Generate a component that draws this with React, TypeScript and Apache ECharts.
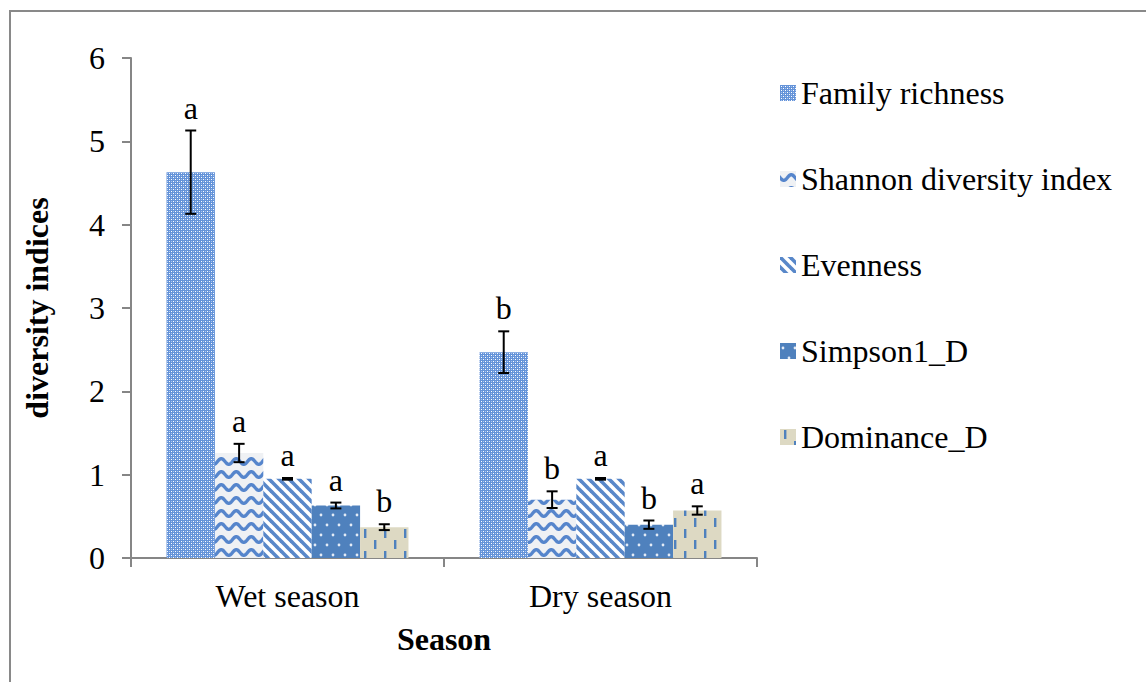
import React, { useEffect, useRef } from "react";
import * as echarts from "echarts";

const categories = ["Wet season", "Dry season"];
const seriesNames = [
  "Family richness",
  "Shannon diversity index",
  "Evenness",
  "Simpson1_D",
  "Dominance_D",
];
const familyRichness = [4.63, 2.47];
const shannonIndex = [1.26, 0.7];
const evenness = [0.95, 0.95];
const simpson = [0.63, 0.4];
const dominance = [0.37, 0.57];

const familyErr = [0.5, 0.25];
const shannonErr = [0.11, 0.1];
const evennessErr = [0.01, 0.01];
const simpsonErr = [0.035, 0.05];
const dominanceErr = [0.035, 0.05];

const familyLetters = ["a", "b"];
const shannonLetters = ["a", "b"];
const evennessLetters = ["a", "a"];
const simpsonLetters = ["a", "b"];
const dominanceLetters = ["b", "a"];

const yMin = 0;
const yMax = 6;
const yInterval = 1;

const FONT = "Liberation Serif";
const FS = 32;
const GAP = 0.227;

function tile(w: number, h: number, draw: (ctx: CanvasRenderingContext2D) => void) {
  const c = document.createElement("canvas");
  c.width = w;
  c.height = h;
  const ctx = c.getContext("2d") as CanvasRenderingContext2D;
  draw(ctx);
  return { image: c, repeat: "repeat", imageWidth: w, imageHeight: h } as any;
}

function makePatterns() {
  const family = tile(4, 4, (ctx) => {
    ctx.fillStyle = "#6493d8";
    ctx.fillRect(0, 0, 4, 4);
    ctx.fillStyle = "#ffffff";
    ctx.fillRect(1, 1, 1, 1);
    ctx.fillRect(3, 3, 1, 1);
    ctx.fillStyle = "#a9c3ee";
    ctx.fillRect(3, 1, 1, 1);
    ctx.fillRect(1, 3, 1, 1);
  });
  const shannon = tile(15, 13, (ctx) => {
    ctx.fillStyle = "#eff1f4";
    ctx.fillRect(0, 0, 15, 13);
    ctx.strokeStyle = "#5585cc";
    ctx.lineWidth = 3.4;
    for (const off of [-13, 0, 13]) {
      ctx.beginPath();
      for (let x = -1; x <= 16; x += 0.5) {
        const y = 6.5 + off + 2.8 * Math.sin((2 * Math.PI * x) / 15);
        if (x === -1) ctx.moveTo(x, y);
        else ctx.lineTo(x, y);
      }
      ctx.stroke();
    }
  });
  const even = tile(10, 10, (ctx) => {
    ctx.fillStyle = "#ffffff";
    ctx.fillRect(0, 0, 10, 10);
    ctx.strokeStyle = "#5887c9";
    ctx.lineWidth = 3.6;
    for (const x0 of [-10, 0, 10]) {
      ctx.beginPath();
      ctx.moveTo(x0 - 2, -2);
      ctx.lineTo(x0 + 12, 12);
      ctx.stroke();
    }
  });
  const simp = tile(12, 20, (ctx) => {
    ctx.fillStyle = "#4f81bd";
    ctx.fillRect(0, 0, 12, 20);
    ctx.fillStyle = "#e3ebf6";
    for (const [x, y] of [
      [3, 5],
      [9, 15],
    ]) {
      ctx.beginPath();
      ctx.arc(x, y, 1.4, 0, Math.PI * 2);
      ctx.fill();
    }
  });
  const dom = tile(20, 22, (ctx) => {
    ctx.fillStyle = "#ddd9c3";
    ctx.fillRect(0, 0, 20, 22);
    ctx.fillStyle = "#4f81bd";
    ctx.fillRect(4, 1, 2.4, 9);
    ctx.fillRect(14, 12, 2.4, 9);
  });
  return [family, shannon, even, simp, dom];
}

export default function App() {
  const ref = useRef<HTMLDivElement>(null);
  useEffect(() => {
    if (!ref.current) return;
    const chart = echarts.init(ref.current, undefined, { renderer: "svg" });
    const patterns = makePatterns();
    const values = [familyRichness, shannonIndex, evenness, simpson, dominance];
    const errs = [familyErr, shannonErr, evennessErr, simpsonErr, dominanceErr];
    const letters = [familyLetters, shannonLetters, evennessLetters, simpsonLetters, dominanceLetters];
    const n = seriesNames.length;
    const legendText = { fontFamily: FONT, fontSize: FS, color: "#000" };

    const barSeries = seriesNames.map((name, i) => ({
      name,
      type: "bar",
      data: values[i],
      barGap: "0%",
      barCategoryGap: GAP * 100 + "%",
      itemStyle: { color: patterns[i] },
      z: 2,
    }));

    const errSeries = seriesNames.map((name, i) => ({
      type: "custom",
      name: name + " error",
      coordinateSystem: "cartesian2d",
      z: 5,
      silent: true,
      data: categories.map((_, j) => [j, values[i][j], errs[i][j]]),
      encode: { x: 0, y: 1 },
      renderItem: (params: any, api: any) => {
        const cat = api.value(0);
        const v = api.value(1);
        const e = api.value(2);
        const band = api.size([1, 0])[0];
        const bw = (band * (1 - GAP)) / n;
        const cx = api.coord([cat, v])[0] + (i - (n - 1) / 2) * bw;
        const top = api.coord([cat, v + e])[1];
        const bot = api.coord([cat, v - e])[1];
        const hw = 5.5;
        const ls = { stroke: "#000", lineWidth: 2 };
        return {
          type: "group",
          children: [
            { type: "line", shape: { x1: cx, y1: top, x2: cx, y2: bot }, style: ls },
            { type: "line", shape: { x1: cx - hw, y1: top, x2: cx + hw, y2: top }, style: ls },
            { type: "line", shape: { x1: cx - hw, y1: bot, x2: cx + hw, y2: bot }, style: ls },
            {
              type: "text",
              x: cx,
              y: top - 7,
              style: {
                text: letters[i][params.dataIndex],
                fill: "#000",
                font: FS + "px " + FONT,
                align: "center",
                verticalAlign: "bottom",
                textAlign: "center",
                textVerticalAlign: "bottom",
              },
            },
          ],
        };
      },
    }));

    chart.setOption({
      animation: false,
      backgroundColor: "#ffffff",
      textStyle: { fontFamily: FONT },
      graphic: [
        {
          type: "rect",
          shape: { x: 10, y: 11, width: 1300, height: 800 },
          style: { fill: "none", stroke: "#898989", lineWidth: 2 },
          z: 0,
        },
      ],
      legend: {
        data: seriesNames.map((name) => ({ name, textStyle: legendText })),
        orient: "vertical",
        left: 775,
        top: 72,
        itemWidth: 16,
        itemHeight: 16,
        itemGap: 54,
        icon: "rect",
        textStyle: legendText,
        selectedMode: false,
      },
      grid: { left: 131, top: 58, right: 389, bottom: 124 },
      xAxis: {
        type: "category",
        data: categories,
        name: "Season",
        nameLocation: "middle",
        nameGap: 65,
        nameTextStyle: { fontFamily: FONT, fontSize: FS, fontWeight: "bold", color: "#000" },
        axisLine: { lineStyle: { color: "#868686", width: 2 } },
        axisTick: { show: true, length: 9, lineStyle: { color: "#868686", width: 2 } },
        axisLabel: { fontFamily: FONT, fontSize: FS, color: "#000", margin: 22 },
      },
      yAxis: {
        type: "value",
        min: yMin,
        max: yMax,
        interval: yInterval,
        name: "diversity indices",
        nameLocation: "middle",
        nameGap: 78,
        nameTextStyle: { fontFamily: FONT, fontSize: FS, fontWeight: "bold", color: "#000" },
        axisLine: { show: true, lineStyle: { color: "#868686", width: 2 } },
        axisTick: { show: true, length: 9, lineStyle: { color: "#868686", width: 2 } },
        axisLabel: { fontFamily: FONT, fontSize: FS, color: "#000", margin: 26 },
        splitLine: { show: false },
      },
      series: [...barSeries, ...errSeries],
    } as any);
    return () => chart.dispose();
  }, []);
  return (
    <div
      ref={ref}
      style={{ position: "absolute", left: 0, top: 0, width: 1146, height: 682 }}
    />
  );
}
